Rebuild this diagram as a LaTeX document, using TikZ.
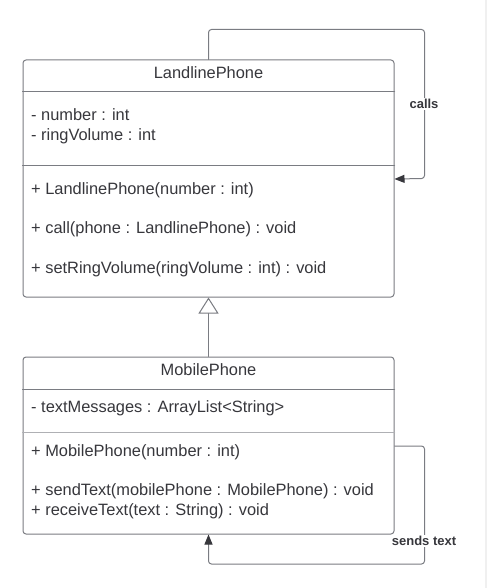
\documentclass[tikz,border=0pt]{standalone}
\usepackage{fontspec}
\setmainfont{Liberation Sans}
\usetikzlibrary{arrows.meta}
\definecolor{umlline}{RGB}{122,124,130}
\definecolor{umltext}{RGB}{55,55,60}
\tikzset{
  classbox/.style={draw=umlline, line width=1pt, rounded corners=3pt, inner sep=0pt},
  divider/.style={draw=umlline, line width=1pt},
  member/.style={anchor=west, inner sep=0pt, text height=12pt, text depth=4pt, text=umltext, font=\fontsize{16.4}{20}\selectfont},
  title/.style={member, anchor=center},
  assoc/.style={draw=umlline, line width=1pt, rounded corners=3pt, -{Triangle[length=10pt,width=8pt,color=umltext]}},
  inherit/.style={draw=umlline, line width=1pt, -{Triangle[open,length=16pt,width=20pt,fill=white]}},
  linklabel/.style={fill=white, inner sep=1pt, text=umltext, font=\fontsize{13}{15}\selectfont\bfseries}
}
\begin{document}
\begin{tikzpicture}[x=1pt, y=-1pt, line join=round, line cap=round]
	\useasboundingbox (0,0) rectangle (489,588);
	\fill[white] (0,0) rectangle (489,588);
	\fill[black!6] (485,0) rectangle (486.5,588);
	% LandlinePhone
	\node[classbox, minimum width=371pt, minimum height=237pt] (landline) at (208.5,178.5) {};
	\draw[divider] (landline.west |- 0,92) -- (landline.east |- 0,92);
	\draw[divider] (landline.west |- 0,165) -- (landline.east |- 0,165);
	\node[title] (lp-name) at (208.5,75) {LandlinePhone};
	\node[member] (lp-a1) at (31,117) {- number : int};
	\node[member] (lp-a2) at (31,137) {- ringVolume : int};
	\node[member] (lp-m1) at (31,190) {+ LandlinePhone(number : int)};
	\node[member] (lp-m2) at (31,229) {+ call(phone : LandlinePhone) : void};
	\node[member] (lp-m3) at (31,269) {+ setRingVolume(ringVolume : int) : void};
	% MobilePhone
	\node[classbox, minimum width=371pt, minimum height=177pt] (mobile) at (208.5,445.5) {};
	\draw[divider] (mobile.west |- 0,389) -- (mobile.east |- 0,389);
	\draw[divider, umlline!60] (mobile.west |- 0,432) -- (mobile.east |- 0,432);
	\node[title] (mp-name) at (208.5,371) {MobilePhone};
	\node[member] (mp-a1) at (31,408) {- textMessages : ArrayList<String>};
	\node[member] (mp-m1) at (31,452) {+ MobilePhone(number : int)};
	\node[member] (mp-m2) at (31,491) {+ sendText(mobilePhone : MobilePhone) : void};
	\node[member] (mp-m3) at (31,511) {+ receiveText(text : String) : void};
	% links
	\draw[inherit] (mobile.north) -- (landline.south);
	\draw[assoc] (landline.north) -- ++(0,-30) -| ++(216,149) -- (landline.east |- 0,179);
	\node[linklabel] (callslabel) at (424,104) {calls};
	\draw[assoc] (mobile.east |- 0,446) -- ++(30,0) |- ++(-216,118) -- (mobile.south);
	\node[linklabel] (sendslabel) at (424,541) {sends text};
\end{tikzpicture}
\end{document}
